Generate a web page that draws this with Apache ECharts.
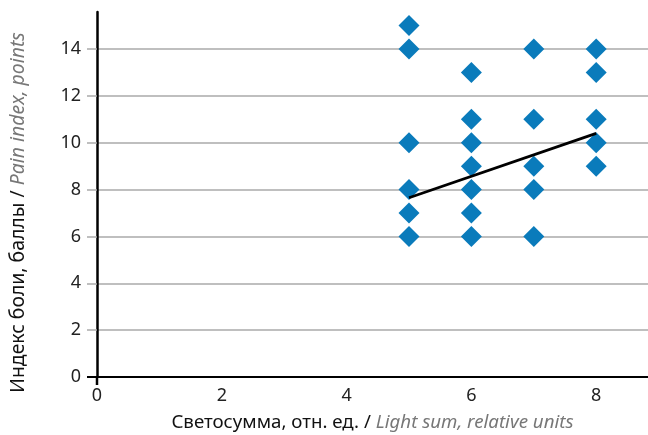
<!DOCTYPE html>
<html><head><meta charset="utf-8">
<script src="https://cdn.jsdelivr.net/npm/echarts@6/dist/echarts.min.js"></script>
<style>html,body{margin:0;padding:0;background:#fff}#c{width:648px;height:435px}</style>
</head><body><div id="c"></div>
<script>
const xs5 = [15, 14, 10, 8, 7, 6];
const xs6 = [13, 11, 10, 9, 8, 7, 6];
const xs7 = [14, 11, 9, 8, 6];
const xs8 = [14, 13, 11, 10, 9];
const groupX = [5, 6, 7, 8];
const groups = [xs5, xs6, xs7, xs8];
const trendLine = [[5, 7.65], [8, 10.4]];
const xTicks = [0, 2, 4, 6, 8];
const yTicks = [0, 2, 4, 6, 8, 10, 12, 14];

const points = [];
groups.forEach((g, i) => g.forEach(v => points.push([groupX[i], v])));

const font = '"Noto Sans", sans-serif';
const chart = echarts.init(document.getElementById('c'));
chart.setOption({
  animation: false,
  grid: { left: 97, right: 0, top: 12, bottom: 58, containLabel: false, outerBoundsMode: 'none' },
  xAxis: {
    type: 'value', min: 0, max: 8.83, interval: 2,
    axisLine: { lineStyle: { color: '#000', width: 2 } },
    axisTick: { show: false },
    splitLine: { show: false },
    axisLabel: {
      margin: 10, fontSize: 18, color: '#222', fontFamily: font,
      showMaxLabel: false,
      formatter: v => xTicks.includes(v) ? String(v) : ''
    },
    name: '{a|Светосумма, отн. ед. / }{b|Light sum, relative units}',
    nameLocation: 'middle', nameGap: 36,
    nameTextStyle: {
      rich: {
        a: { fontSize: 18.7, color: '#111', fontFamily: font },
        b: { fontSize: 18.7, color: '#777', fontStyle: 'italic', fontFamily: font }
      }
    }
  },
  yAxis: {
    type: 'value', min: 0, max: 15.58, interval: 2,
    axisLine: { lineStyle: { color: '#000', width: 2.5 } },
    axisTick: { show: true, length: 10, lineStyle: { color: '#aaa', width: 1.5 } },
    splitLine: { show: true, showMinLine: false, showMaxLine: false, lineStyle: { color: '#aaa', width: 1.5 } },
    axisLabel: {
      margin: 16, fontSize: 18, color: '#222', fontFamily: font,
      showMaxLabel: false,
      formatter: v => yTicks.includes(v) ? String(v) : ''
    },
    name: '{a|Индекс боли, баллы / }{b|Pain index, points}',
    nameLocation: 'middle', nameGap: 69,
    nameTextStyle: {
      padding: [0, 36, 0, 0],
      rich: {
        a: { fontSize: 19.4, color: '#111', fontFamily: font },
        b: { fontSize: 19.4, color: '#777', fontStyle: 'italic', fontFamily: font }
      }
    }
  },
  series: [
    {
      type: 'scatter', data: points, symbol: 'diamond', symbolSize: 21,
      itemStyle: { color: '#0a7bbb', opacity: 1 }, z: 2
    },
    {
      type: 'line', data: trendLine, symbol: 'none',
      lineStyle: { color: '#000', width: 2.8 }, z: 3
    }
  ]
});
// axis line extensions past the origin, positioned via the chart's own scale
const o = chart.convertToPixel({ gridIndex: 0 }, [0, 0]);
chart.setOption({
  graphic: [
    { type: 'line', shape: { x1: o[0] - 10, y1: o[1], x2: o[0], y2: o[1] }, style: { stroke: '#000', lineWidth: 2 }, z: 10 },
    { type: 'line', shape: { x1: o[0], y1: o[1], x2: o[0], y2: o[1] + 8 }, style: { stroke: '#000', lineWidth: 2.5 }, z: 10 }
  ]
});
</script></body></html>
